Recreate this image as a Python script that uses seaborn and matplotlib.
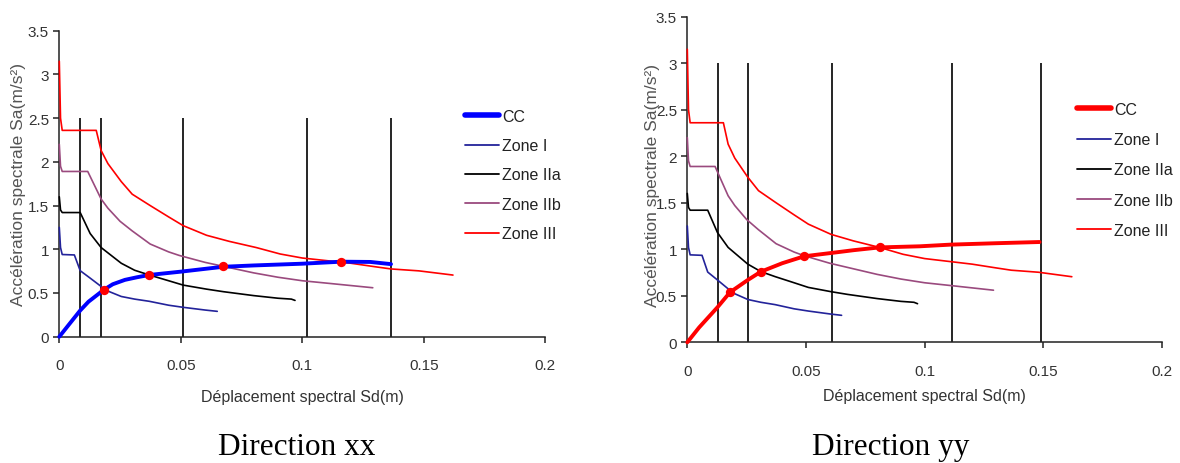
import matplotlib
matplotlib.use("Agg")
import matplotlib.pyplot as plt
from matplotlib.lines import Line2D
import seaborn as sns

# ---------------- data ----------------
zone1_sd = [0, 0.0005, 0.0012, 0.0062, 0.0086, 0.0127, 0.0172, 0.0184, 0.0255, 0.031, 0.037, 0.045, 0.051, 0.060, 0.065]
zone1_sa = [1.25, 1.02, 0.94, 0.935, 0.755, 0.67, 0.575, 0.54, 0.46, 0.43, 0.405, 0.36, 0.336, 0.305, 0.29]

zone2a_sd = [0, 0.0005, 0.0012, 0.0086, 0.0127, 0.0172, 0.0255, 0.031, 0.037, 0.045, 0.051, 0.0606, 0.0675, 0.08, 0.09, 0.0955, 0.097]
zone2a_sa = [1.6, 1.45, 1.42, 1.42, 1.18, 1.02, 0.84, 0.76, 0.706, 0.64, 0.59, 0.544, 0.515, 0.47, 0.44, 0.43, 0.415]

zone2b_sd = [0, 0.0005, 0.0012, 0.0117, 0.0172, 0.02, 0.025, 0.03, 0.0374, 0.045, 0.0493, 0.06, 0.0675, 0.08, 0.09, 0.1, 0.111, 0.12, 0.129]
zone2b_sa = [2.2, 1.95, 1.89, 1.89, 1.575, 1.47, 1.32, 1.21, 1.06, 0.97, 0.93, 0.85, 0.805, 0.73, 0.68, 0.64, 0.61, 0.585, 0.56]

zone3_sd = [0, 0.0005, 0.0012, 0.0152, 0.0172, 0.02, 0.0255, 0.03, 0.0374, 0.045, 0.051, 0.0606, 0.07, 0.081, 0.0909, 0.1, 0.111, 0.12, 0.13, 0.1365, 0.148, 0.162]
zone3_sa = [3.15, 2.5, 2.36, 2.36, 2.13, 1.98, 1.774, 1.63, 1.50, 1.37, 1.27, 1.16, 1.09, 1.02, 0.946, 0.90, 0.867, 0.84, 0.80, 0.775, 0.753, 0.705]

cc_xx_sd = [0, 0.004, 0.0086, 0.012, 0.0184, 0.022, 0.027, 0.032, 0.037, 0.05, 0.0675, 0.08, 0.1, 0.116, 0.128, 0.1365]
cc_xx_sa = [0, 0.14, 0.30, 0.40, 0.538, 0.60, 0.65, 0.68, 0.706, 0.744, 0.80, 0.815, 0.835, 0.858, 0.855, 0.83]
pts_xx_sd = [0.0184, 0.037, 0.0675, 0.116]
pts_xx_sa = [0.538, 0.706, 0.805, 0.858]
vl_xx_sd = [0.0086, 0.0172, 0.051, 0.102, 0.1365]
vl_xx_top = 2.5

cc_yy_sd = [0, 0.005, 0.0127, 0.018, 0.0255, 0.031, 0.04, 0.0493, 0.0606, 0.07, 0.081, 0.098, 0.111, 0.13, 0.1484]
cc_yy_sa = [0, 0.16, 0.376, 0.538, 0.67, 0.759, 0.85, 0.925, 0.96, 0.99, 1.02, 1.032, 1.05, 1.065, 1.078]
pts_yy_sd = [0.018, 0.031, 0.0493, 0.081]
pts_yy_sa = [0.538, 0.759, 0.925, 1.021]
vl_yy_sd = [0.0128, 0.0257, 0.061, 0.1115, 0.149]
vl_yy_top = 3.0

x_ticks = [0, 0.05, 0.1, 0.15, 0.2]
x_ticklabels = ["0", "0.05", "0.1", "0.15", "0.2"]
y_ticks = [0, 0.5, 1, 1.5, 2, 2.5, 3, 3.5]
y_ticklabels = ["0", "0.5", "1", "1.5", "2", "2.5", "3", "3.5"]

legend_labels = ["CC", "Zone I", "Zone IIa", "Zone IIb", "Zone III"]
titles = ["Direction xx", "Direction yy"]
xlabel = "Déplacement spectral Sd(m)"
ylabel = "Accélération spectrale Sa(m/s²)"

# ---------------- style ----------------
sns.set_theme(style="ticks")
plt.rcParams["font.family"] = ["Liberation Sans", "DejaVu Sans"]

C_ZONE1 = "#23239a"
C_ZONE2A = "#000000"
C_ZONE2B = "#9a4a7e"
C_ZONE3 = "#ff0000"

fig = plt.figure(figsize=(11.8, 4.64), dpi=100)
axL = fig.add_axes([59.3 / 1180, 126.3 / 464, 486 / 1180, 306 / 464])
axR = fig.add_axes([687.3 / 1180, 120.7 / 464, 474.7 / 1180, 325.6 / 464])

panels = [
    (axL, cc_xx_sd, cc_xx_sa, "#0000ff", pts_xx_sd, pts_xx_sa, vl_xx_sd, vl_xx_top,
     (-0.083, 0.50), -0.171, (0.835, 0.745), 0.9, 297, titles[0]),
    (axR, cc_yy_sd, cc_yy_sa, "#ff0000", pts_yy_sd, pts_yy_sa, vl_yy_sd, vl_yy_top,
     (-0.074, 0.486), -0.140, (0.821, 0.738), 0.95, 891, titles[1]),
]

for (ax, cc_sd, cc_sa, cc_col, p_sd, p_sa, vl_sd, vl_top, ylab_pos, xlab_y,
     leg_pos, leg_sp, tx, title) in panels:
    ax.vlines(vl_sd, 0, vl_top, colors="black", linewidth=1.2, zorder=2)
    sns.lineplot(x=zone3_sd, y=zone3_sa, ax=ax, sort=False, estimator=None, color=C_ZONE3, lw=1.2, zorder=3)
    sns.lineplot(x=zone2b_sd, y=zone2b_sa, ax=ax, sort=False, estimator=None, color=C_ZONE2B, lw=1.2, zorder=3)
    sns.lineplot(x=zone2a_sd, y=zone2a_sa, ax=ax, sort=False, estimator=None, color=C_ZONE2A, lw=1.2, zorder=3)
    sns.lineplot(x=zone1_sd, y=zone1_sa, ax=ax, sort=False, estimator=None, color=C_ZONE1, lw=1.2, zorder=3)
    sns.lineplot(x=cc_sd, y=cc_sa, ax=ax, sort=False, estimator=None, color=cc_col, lw=2.8, zorder=4)
    sns.scatterplot(x=p_sd, y=p_sa, ax=ax, color="#ff0000", s=45, linewidth=0, zorder=5)
    for ln in ax.get_lines():
        ln.set_clip_on(False)

    ax.set_xlim(0, 0.2)
    ax.set_ylim(0, 3.5)
    ax.set_xticks(x_ticks)
    ax.set_xticklabels(x_ticklabels)
    ax.set_yticks(y_ticks)
    ax.set_yticklabels(y_ticklabels)
    ax.tick_params(axis="both", direction="out", length=4.5, width=1.1, colors="#222222",
                   labelcolor="#333333", labelsize=11, pad=3)
    ax.tick_params(axis="x", pad=11)
    for s in ["top", "right"]:
        ax.spines[s].set_visible(False)
    for s in ["left", "bottom"]:
        ax.spines[s].set_color("#222222")
        ax.spines[s].set_linewidth(1.1)

    ax.set_xlabel(xlabel, fontsize=11.5, color="#333333")
    ax.xaxis.set_label_coords(0.5, xlab_y)
    ax.set_ylabel(ylabel, fontsize=12.5, color="#555555")
    ax.yaxis.label.set_va("center")
    ax.yaxis.set_label_coords(*ylab_pos)

    lines = ax.get_lines()
    # order in axes: zone3, zone2b, zone2a, zone1, cc -> legend: cc, zone1, zone2a, zone2b, zone3
    handles = [lines[4], lines[3], lines[2], lines[1], lines[0]]
    hs = [Line2D([], [], color=h.get_color(), lw=(4 if i == 0 else 1.3)) for i, h in enumerate(handles)]
    leg = ax.legend(hs, legend_labels, loc="upper left", bbox_to_anchor=leg_pos, frameon=False,
                    fontsize=11.5, handlelength=2.1, handletextpad=0.2, labelspacing=leg_sp,
                    borderpad=0, borderaxespad=0)
    for t in leg.get_texts():
        t.set_color("#222222")

    fig.text(tx / 1180, 1 - 448 / 464, title, ha="center", va="center", fontsize=22.5,
             family=["Liberation Serif", "DejaVu Serif"], color="black")

fig.savefig("out.png", dpi=100)
